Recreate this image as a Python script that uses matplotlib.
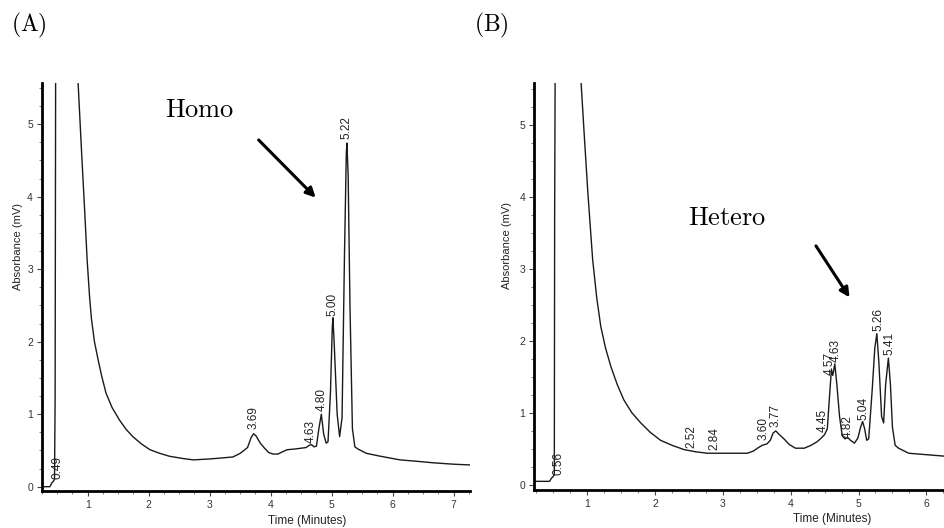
import numpy as np
import matplotlib
matplotlib.use('Agg')
import matplotlib.pyplot as plt
from matplotlib.ticker import MultipleLocator

plt.rcParams['font.family'] = ['Liberation Sans', 'DejaVu Sans']
plt.rcParams['mathtext.fontset'] = 'cm'

# (A) Homo chromatogram (time in minutes, absorbance in mV)
homo_t = [0.25, 0.38, 0.41, 0.44, 0.455, 0.465, 0.475, 0.82,
          0.84, 0.90, 0.95, 0.99, 1.03, 1.06, 1.11, 1.17, 1.23, 1.30, 1.40,
          1.52, 1.63, 1.74, 1.88, 2.02, 2.18, 2.34, 2.55, 2.73, 2.95, 3.11, 3.38,
          3.50, 3.62, 3.68, 3.72, 3.76, 3.83, 3.90, 3.97, 4.04, 4.12, 4.19, 4.27,
          4.40, 4.58, 4.63, 4.67, 4.71, 4.75, 4.79, 4.83, 4.87, 4.91, 4.94, 4.98,
          5.01, 5.02, 5.04, 5.09, 5.13, 5.17, 5.21, 5.24, 5.25, 5.27, 5.30, 5.34,
          5.38, 5.43, 5.57, 5.80, 6.12, 6.40, 6.66, 7.00, 7.27]
homo_v = [0.00, 0.00, 0.05, 0.08, 0.10, 1.20, 6.50, 6.50,
          5.60, 4.60, 3.80, 3.13, 2.62, 2.32, 2.00, 1.75, 1.52, 1.29, 1.09,
          0.92, 0.79, 0.69, 0.59, 0.51, 0.46, 0.42, 0.39, 0.37, 0.38, 0.39, 0.41,
          0.46, 0.54, 0.68, 0.73, 0.70, 0.60, 0.53, 0.47, 0.45, 0.45, 0.48, 0.51,
          0.52, 0.54, 0.57, 0.58, 0.55, 0.56, 0.80, 1.00, 0.72, 0.60, 0.62, 1.30,
          2.20, 2.33, 2.00, 1.00, 0.69, 0.95, 3.20, 4.60, 4.74, 4.30, 2.50, 0.80,
          0.55, 0.52, 0.46, 0.42, 0.37, 0.35, 0.33, 0.31, 0.30]
homo_labels = ['0.49', '3.69', '4.63', '4.80', '5.00', '5.22']
homo_label_x = [0.51, 3.72, 4.65, 4.83, 5.02, 5.25]
homo_label_y = [0.10, 0.79, 0.60, 1.04, 2.35, 4.79]

# (B) Hetero chromatogram
het_t = [0.22, 0.445, 0.47, 0.50, 0.515, 0.52, 0.53, 0.89,
         0.91, 0.96, 1.01, 1.08, 1.14, 1.20, 1.27, 1.35, 1.44, 1.54, 1.66, 1.79,
         1.93, 2.08, 2.25, 2.43, 2.60, 2.77, 3.00, 3.36, 3.45, 3.51, 3.58, 3.65,
         3.70, 3.74, 3.78, 3.82, 3.90, 3.98, 4.07, 4.20, 4.30, 4.39, 4.45, 4.50,
         4.54, 4.57, 4.60, 4.62, 4.65, 4.68, 4.72, 4.76, 4.80, 4.84, 4.88, 4.94,
         4.99, 5.03, 5.06, 5.09, 5.12, 5.15, 5.20, 5.24, 5.27, 5.30, 5.34, 5.37,
         5.40, 5.44, 5.47, 5.50, 5.54, 5.59, 5.74, 6.00, 6.26]
het_v = [0.05, 0.05, 0.09, 0.12, 0.14, 3.75, 6.50, 6.50,
         5.58, 4.80, 4.05, 3.13, 2.60, 2.20, 1.90, 1.64, 1.40, 1.18, 1.00, 0.86,
         0.73, 0.62, 0.55, 0.49, 0.46, 0.44, 0.44, 0.44, 0.47, 0.51, 0.55, 0.57,
         0.62, 0.72, 0.75, 0.71, 0.64, 0.56, 0.51, 0.51, 0.55, 0.60, 0.65, 0.70,
         0.78, 1.20, 1.60, 1.52, 1.68, 1.40, 0.95, 0.68, 0.64, 0.66, 0.62, 0.58,
         0.65, 0.80, 0.88, 0.78, 0.62, 0.64, 1.30, 1.90, 2.10, 1.70, 0.95, 0.86,
         1.40, 1.76, 1.40, 0.80, 0.55, 0.51, 0.44, 0.42, 0.40]
het_labels = ['0.56', '2.52', '2.84', '3.60', '3.77', '4.45', '4.57', '4.63',
              '4.82', '5.04', '5.26', '5.41']
het_label_x = [0.57, 2.53, 2.87, 3.60, 3.78, 4.47, 4.57, 4.67, 4.84, 5.07, 5.29, 5.45]
het_label_y = [0.14, 0.51, 0.49, 0.62, 0.81, 0.74, 1.52, 1.71, 0.65, 0.90, 2.13, 1.81]


def chrom_axes(fig, rect, xlim, ylim, t, v, labels, lx, ly):
    ax = fig.add_axes(rect)
    ax.plot(t, v, color='#1a1a1a', lw=1.0)
    for s, x, y in zip(labels, lx, ly):
        ax.text(x, y, s, rotation=90, ha='center', va='bottom', fontsize=8.5,
                color='#222222')
    ax.set_xlim(*xlim)
    ax.set_ylim(*ylim)
    ax.spines['top'].set_visible(False)
    ax.spines['right'].set_visible(False)
    ax.spines['left'].set_linewidth(2)
    ax.spines['bottom'].set_linewidth(2)
    ax.xaxis.set_major_locator(MultipleLocator(1))
    ax.xaxis.set_minor_locator(MultipleLocator(0.25))
    ax.yaxis.set_major_locator(MultipleLocator(1))
    ax.yaxis.set_minor_locator(MultipleLocator(0.25))
    ax.tick_params(which='major', direction='out', length=3.5, width=0.8,
                   labelsize=7.5, color='#444444', labelcolor='#333333', pad=3)
    ax.tick_params(which='minor', direction='out', length=2.2, width=0.6,
                   color='#666666')
    ax.set_xlabel('Time (Minutes)', fontsize=8.5, color='#222222')
    ax.set_ylabel('Absorbance (mV)', fontsize=8, color='#222222')
    return ax


fig = plt.figure(figsize=(9.44, 5.28), dpi=100)

ax1 = chrom_axes(fig, [0.0445, 0.070, 0.4535, 0.773], (0.25, 7.27), (-0.06, 5.57),
                 homo_t, homo_v, homo_labels, homo_label_x, homo_label_y)
ax1.xaxis.set_label_coords(0.62, -0.059)
ax1.yaxis.set_label_coords(-0.044, 0.60)
ax1.text(2.26, 5.2, r'$\mathrm{Homo}$', fontsize=19, va='center', ha='left')
ax1.annotate('', xy=(4.77, 3.96), xytext=(3.77, 4.81),
             arrowprops=dict(arrowstyle='-|>', lw=2.2, color='black',
                             mutation_scale=14))

ax2 = chrom_axes(fig, [0.566, 0.072, 0.434, 0.771], (0.22, 6.26), (-0.07, 5.58),
                 het_t, het_v, het_labels, het_label_x, het_label_y)
ax2.xaxis.set_label_coords(0.727, -0.057)
ax2.yaxis.set_label_coords(-0.054, 0.60)
ax2.text(2.49, 3.71, r'$\mathrm{Hetero}$', fontsize=19, va='center', ha='left')
ax2.annotate('', xy=(4.89, 2.57), xytext=(4.35, 3.35),
             arrowprops=dict(arrowstyle='-|>', lw=2.2, color='black',
                             mutation_scale=14))

fig.text(29 / 944, 1 - 25 / 528, r'$\mathrm{(A)}$', fontsize=17, ha='center', va='center')
fig.text(491 / 944, 1 - 25 / 528, r'$\mathrm{(B)}$', fontsize=17, ha='center', va='center')

fig.savefig('out.png', dpi=100)
